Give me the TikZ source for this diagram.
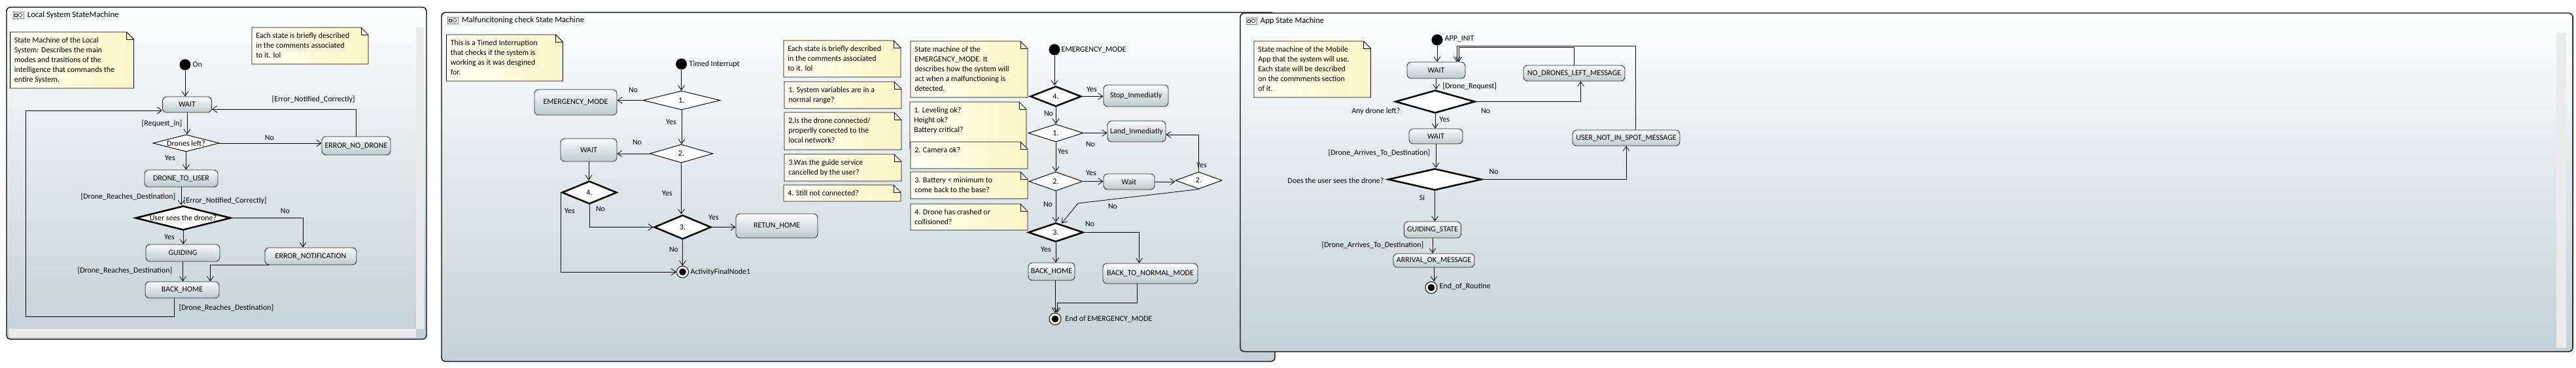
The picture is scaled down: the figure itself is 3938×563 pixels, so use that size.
\documentclass[tikz,border=0pt]{standalone}
\usepackage{fontspec}
\setmainfont{Carlito}
\usetikzlibrary{shapes.geometric,arrows.meta,calc}

\definecolor{bgTop}{HTML}{FDFEFE}
\definecolor{bgBot}{HTML}{C3D1D6}
\definecolor{stTop}{HTML}{F8FAFA}
\definecolor{stBot}{HTML}{BDCACF}
\definecolor{noteL}{HTML}{FFFFF3}
\definecolor{noteR}{HTML}{FBF5C6}

\tikzset{
  every node/.style={font=\fontsize{8.5}{10.7}\selectfont},
  sz/.style 2 args={minimum width=#1*0.025cm, minimum height=#2*0.025cm},
  panel/.style={draw, line width=1pt, rounded corners=4pt, top color=bgTop, bottom color=bgBot},
  state/.style={draw=black!85, line width=0.6pt, rounded corners=4.5pt, top color=stTop, bottom color=stBot, inner sep=1pt},
  choice/.style={diamond, draw, fill=white, aspect=4, inner sep=0pt, line width=0.7pt},
  bigchoice/.style={choice, line width=1.8pt},
  start/.style={circle, fill=black, inner sep=0pt, minimum size=0.425cm},
  endnode/.style={circle, draw, line width=0.7pt, fill=white, inner sep=0pt, minimum size=0.45cm,
    path picture={\fill[black] (path picture bounding box.center) circle (0.135cm);}},
  lbl/.style={inner sep=1pt},
  notebox/.style={draw, line width=0.6pt, left color=noteL, right color=noteR},
  notetext/.style={anchor=north west, align=left, inner sep=0pt},
  arr/.style={-{Straight Barb[length=5pt,width=7pt]}, line width=0.6pt},
  bar/.style={fill=black!8}
}

% comment box with a folded corner
\newcommand{\umlnote}[6]{%
  \draw[notebox] (#2,#3) -- (#4-11,#3) -- (#4,#3+11) |- (#2,#5) -- cycle;
  \draw[line width=0.6pt] (#4-11,#3) |- (#4,#3+11);
  \node[notetext] (#1) at (#2+6,#3+8) {#6};}

\begin{document}
\begin{tikzpicture}[x=0.025cm, y=-0.025cm]
  \fill[white] (0,0) rectangle (3938,563);
  \useasboundingbox (0,0) rectangle (3938,563);

  % frames
  \draw[panel] (10,11) rectangle (652,519);
  \draw[panel] (675,19) rectangle (1949,553);
  \draw[panel] (1896,20) rectangle (3933,538);
  \fill[bar] (636,42) rectangle (648,503);
  \fill[bar] (14,503) rectangle (636,516);
  \fill[bar] (3908,50) rectangle (3923,532);
  \foreach \x/\y in {28/23,692/31,1913/32}{
    \draw[densely dotted, line width=0.4pt] (\x-8,\y-5) rectangle (\x+8,\y+5);
    \draw[line width=0.4pt] (\x-6,\y-2) rectangle (\x-2,\y+2);
    \draw[line width=0.4pt] (\x+3,\y) circle (0.07cm);
  }
  \node[anchor=west, font=\fontsize{9}{11}\selectfont] (t1) at (37,23) {Local System StateMachine};
  \node[anchor=west, font=\fontsize{9}{11}\selectfont] (t2) at (701,31) {Malfuncitoning check State Machine};
  \node[anchor=west, font=\fontsize{9}{11}\selectfont] (t3) at (1922,32) {App State Machine};

  % local system
  \umlnote{c1}{15.6}{49}{204.5}{135}{State Machine of the Local\\System: Describes the main\\modes and trasitions of the\\intelligence that commands the\\entire System.}
  \umlnote{c2}{385}{42}{563}{98}{Each state is briefly described\\in the comments associated\\to it. lol}
  \node[start] (ini1) at (283,99) {};
  \node[lbl, anchor=west] (l1) at (293,99) {On};
  \node[state, sz={75}{24}] (wait1) at (286,160) {WAIT};
  \node[choice, sz={101}{26}] (drones) at (284.5,219) {Drones left?};
  \node[state, sz={105}{28}] (errnd) at (544.5,223) {ERROR\_NO\_DRONE};
  \node[state, sz={112}{26}] (dtu) at (277,273) {DRONE\_TO\_USER};
  \node[bigchoice, sz={146}{37}] (sees) at (280,333.5) {User sees the drone?};
  \node[state, sz={140}{26}] (errnot) at (475,392) {ERROR\_NOTIFICATION};
  \node[state, sz={113}{26}] (guiding) at (279.5,387) {GUIDING};
  \node[state, sz={113}{25}] (home1) at (278.5,443.5) {BACK\_HOME};
  \node[lbl, anchor=west] (l2) at (414,152) {[Error\_Notified\_Correctly]};
  \node[lbl, anchor=east] (l3) at (280,189) {[Request\_in]};
  \node[lbl] (l4) at (412,211) {No};
  \node[lbl] (l5) at (260,242) {Yes};
  \node[lbl, anchor=east] (l6) at (270,301) {[Drone\_Reaches\_Destination]};
  \node[lbl, anchor=west] (l7) at (279,307) {[Error\_Notified\_Correctly]};
  \node[lbl] (l8) at (436,323) {No};
  \node[lbl] (l9) at (259,363) {Yes};
  \node[lbl, anchor=east] (l10) at (265,414) {[Drone\_Reaches\_Destination]};
  \node[lbl, anchor=west] (l11) at (272,471) {[Drone\_Reaches\_Destination]};
  \begin{scope}[arr]
    \draw (ini1) to (ini1 |- wait1.north);
    \draw (wait1.south) to (wait1.south |- drones.north);
    \draw (drones.east) to (drones.east -| errnd.west);
    \draw (errnd.north) |- ($(wait1.east)+(0,7)$);
    \draw (drones.south) to (drones.south |- dtu.north);
    \draw (dtu.south) to (dtu.south |- sees.north);
    \draw (sees.east) -| ($(errnot.north)+(-12,0)$);
    \draw (sees.south) to (sees.south |- guiding.north);
    \draw (guiding.south) to (guiding.south |- home1.north);
    \draw ($(errnot.south west)+(7,0)$) -| ($(home1.north)+(43,0)$);
    \draw ($(home1.south)+(-12,0)$) |- (39,484) |- ($(wait1.west)+(0,9)$);
  \end{scope}

  % malfunctioning check
  \umlnote{c3}{682.5}{53}{860.5}{124}{This is a Timed Interruption\\that checks if the system is\\working as it was desgined\\for.}
  \node[start] (ini2) at (1041.6,98) {};
  \node[lbl, anchor=west] (l12) at (1052,98) {Timed Interrupt};
  \node[choice, sz={118}{29}] (q1) at (1042,153.5) {1.};
  \node[state, sz={126}{39}] (emerg) at (880,156.5) {EMERGENCY\_MODE};
  \node[choice, sz={97}{28}] (q2) at (1041.5,235) {2.};
  \node[state, sz={86}{35}] (wait2) at (900,229.5) {WAIT};
  \node[bigchoice, sz={84}{35}] (q4) at (901,294.5) {4.};
  \node[bigchoice, sz={87}{37}] (q3) at (1043.5,347.5) {3.};
  \node[state, sz={125}{37}] (retun) at (1187.5,345.5) {RETUN\_HOME};
  \node[endnode] (fin1) at (1043.5,416) {};
  \node[lbl, anchor=west] (l13) at (1054,416) {ActivityFinalNode1};
  \node[lbl] (l14) at (968,138) {No};
  \node[lbl] (l15) at (1026,187) {Yes};
  \node[lbl] (l16) at (974,218) {No};
  \node[lbl] (l17) at (871,323) {Yes};
  \node[lbl] (l18) at (918,320) {No};
  \node[lbl] (l19) at (1020,296) {Yes};
  \node[lbl] (l20) at (1091,333) {Yes};
  \node[lbl] (l21) at (1030,382) {No};
  \begin{scope}[arr]
    \draw (ini2) to (ini2 |- q1.north);
    \draw (q1.west) to (q1.west -| emerg.east);
    \draw (q1.south) to (q1.south |- q2.north);
    \draw (q2.west) to (q2.west -| wait2.east);
    \draw (wait2.south) to (wait2.south |- q4.north);
    \draw (q4.west) |- (fin1.west);
    \draw (q4.south) |- (q3.west);
    \draw (q2.south) to (q2.south |- q3.north);
    \draw (q3.east) to (q3.east -| retun.west);
    \draw (q3.south) to (q3.south |- fin1.north);
  \end{scope}

  \umlnote{c4}{1198}{62}{1377}{118}{Each state is briefly described\\in the comments associated\\to it. lol}
  \umlnote{c5}{1199}{125}{1378}{166}{1. System variables are in a\\normal range?}
  \umlnote{c6}{1199}{172}{1378}{229}{2.Is the drone connected/\\properlly conected to the\\local network?}
  \umlnote{c7}{1199}{236}{1378}{277}{3.Was the guide service\\cancelled by the user?}
  \umlnote{c8}{1198}{283}{1377}{308}{4. Still not connected?}
  \umlnote{c9}{1392}{63}{1571}{149}{State machine of the\\EMERGENCY\_MODE. It\\describes how the system will\\act when a malfunctioning is\\detected.}
  \umlnote{c10}{1391}{156}{1569}{227}{1. Leveling ok?\\Height ok?\\Battery critical?}
  \umlnote{c11}{1392}{217}{1571}{258}{2. Camera ok?}
  \umlnote{c12}{1392}{263}{1571}{304}{3. Battery < minimum to\\come back to the base?}
  \umlnote{c13}{1392}{312}{1571}{352}{4. Drone has crashed or\\collisioned?}

  % emergency mode
  \node[start] (ini3) at (1612,76) {};
  \node[lbl, anchor=west] (l22) at (1621,76) {EMERGENCY\_MODE};
  \node[bigchoice, sz={78}{31}] (e4) at (1614,147.5) {4.};
  \node[state, sz={99}{33}] (stopim) at (1736.5,146.5) {Stop\_Inmediatly};
  \node[choice, sz={84}{27}] (e1) at (1614,203.5) {1.};
  \node[state, sz={89}{32}] (landim) at (1737.5,201) {Land\_Inmediatly};
  \node[choice, sz={82}{29}] (e2) at (1614,277.5) {2.};
  \node[state, sz={78}{24}] (waite) at (1726,278) {Wait};
  \node[choice, sz={71}{26}] (e2b) at (1832.5,276) {2.};
  \node[bigchoice, sz={84}{29}] (e3) at (1614,355.5) {3.};
  \node[state, sz={71}{27}] (home2) at (1607.5,415.5) {BACK\_HOME};
  \node[state, sz={145}{31}] (normal) at (1758.5,418.5) {BACK\_TO\_NORMAL\_MODE};
  \node[endnode] (fin2) at (1613,488) {};
  \node[lbl, anchor=west] (l23) at (1627,488) {End of EMERGENCY\_MODE};
  \coordinate (bend1) at (1648,311);
  \node[lbl] (l24) at (1669,137) {Yes};
  \node[lbl] (l25) at (1603,174) {No};
  \node[lbl] (l26) at (1667,221) {No};
  \node[lbl] (l27) at (1625,232) {Yes};
  \node[lbl] (l28) at (1668,265) {Yes};
  \node[lbl] (l29) at (1837,253) {Yes};
  \node[lbl] (l30) at (1701,316) {No};
  \node[lbl] (l31) at (1602,313) {No};
  \node[lbl] (l32) at (1666,343) {No};
  \node[lbl] (l33) at (1599,382) {Yes};
  \begin{scope}[arr]
    \draw (ini3) to (ini3 |- e4.north);
    \draw (e4.east) to (e4.east -| stopim.west);
    \draw (e4.south) to (e1.north);
    \draw (e1.east) to (e1.east -| landim.west);
    \draw (e1.south) to (e2.north);
    \draw (e2.east) to (e2.east -| waite.west);
    \draw (waite.east) to (waite.east -| e2b.west);
    \draw (e2b.north) |- ($(landim.east)+(0,5)$);
    \draw (e2b.south) -- (bend1) -- ($(e3.north)+(9,2)$);
    \draw (e2.south) to (e3.north);
    \draw (e3.east) -| ($(normal.north)+(-17,0)$);
    \draw (e3.south) to (e3.south |- home2.north);
    \draw (fin2 |- home2.south) to (fin2.north);
    \draw ($(normal.south)+(-20,0)$) |- ($(fin2.north)+(3,-15)$) -- ($(fin2.north)+(3,0)$);
  \end{scope}

  % app
  \umlnote{c14}{1917}{63}{2095.5}{149}{State machine of the Mobile\\App that the system will use.\\Each state will be described\\on the commments section\\of it.}
  \node[start] (ini4) at (2197,61) {};
  \node[lbl, anchor=west] (l34) at (2207,59) {APP\_INIT};
  \node[state, sz={89}{25}] (await1) at (2195.5,107.5) {WAIT};
  \node[state, sz={155}{24}] (nodrones) at (2406.5,112) {NO\_DRONES\_LEFT\_MESSAGE};
  \node[bigchoice, sz={122}{35}] (anyleft) at (2194,155.5) {};
  \node[state, sz={82}{23}] (await2) at (2195,208.5) {WAIT};
  \node[bigchoice, sz={143}{33}] (usersees) at (2193.5,274.5) {};
  \node[state, sz={164}{24}] (notspot) at (2486,211) {USER\_NOT\_IN\_SPOT\_MESSAGE};
  \node[state, sz={87}{25}] (guidst) at (2190,351.5) {GUIDING\_STATE};
  \node[state, sz={124}{21}] (arrok) at (2192,398.5) {ARRIVAL\_OK\_MESSAGE};
  \node[endnode] (fin3) at (2188,440) {};
  \node[lbl, anchor=west] (l35) at (2199,438) {End\_of\_Routine};
  \node[lbl, anchor=west] (l36) at (2204,132) {[Drone\_Request]};
  \node[lbl, anchor=east] (l37) at (2142,170) {Any drone left?};
  \node[lbl] (l38) at (2271,170) {No};
  \node[lbl, anchor=west] (l39) at (2199,183) {Yes};
  \node[lbl, anchor=east] (l40) at (2188,234) {[Drone\_Arrives\_To\_Destination]};
  \node[lbl, anchor=east] (l41) at (2117,276) {Does the user sees the drone?};
  \node[lbl, anchor=west] (l42) at (2275,263) {No};
  \node[lbl] (l43) at (2174,302) {Si};
  \node[lbl, anchor=east] (l44) at (2178,375) {[Drone\_Arrives\_To\_Destination]};
  \begin{scope}[arr]
    \draw (ini4) to (ini4 |- await1.north);
    \draw (await1.south) to (await1.south |- anyleft.north);
    \draw (anyleft.east) -| ($(nodrones.south)+(10,0)$);
    \draw (nodrones.north) |- ($(await1.north)+(34.5,-22)$) -- ($(await1.north)+(34.5,0)$);
    \draw ($(notspot.north)+(14,0)$) |- ($(await1.north)+(31.5,-24)$) -- ($(await1.north)+(31.5,0)$);
    \draw (anyleft.south) to (anyleft.south |- await2.north);
    \draw (await2.south) to (await2.south |- usersees.north);
    \draw (usersees.east) -| (notspot.south);
    \draw (usersees.south) to (usersees.south |- guidst.north);
    \draw (guidst.south) to (guidst.south |- arrok.north);
    \draw (arrok.south) to (arrok.south |- fin3.north);
  \end{scope}
\end{tikzpicture}
\end{document}
